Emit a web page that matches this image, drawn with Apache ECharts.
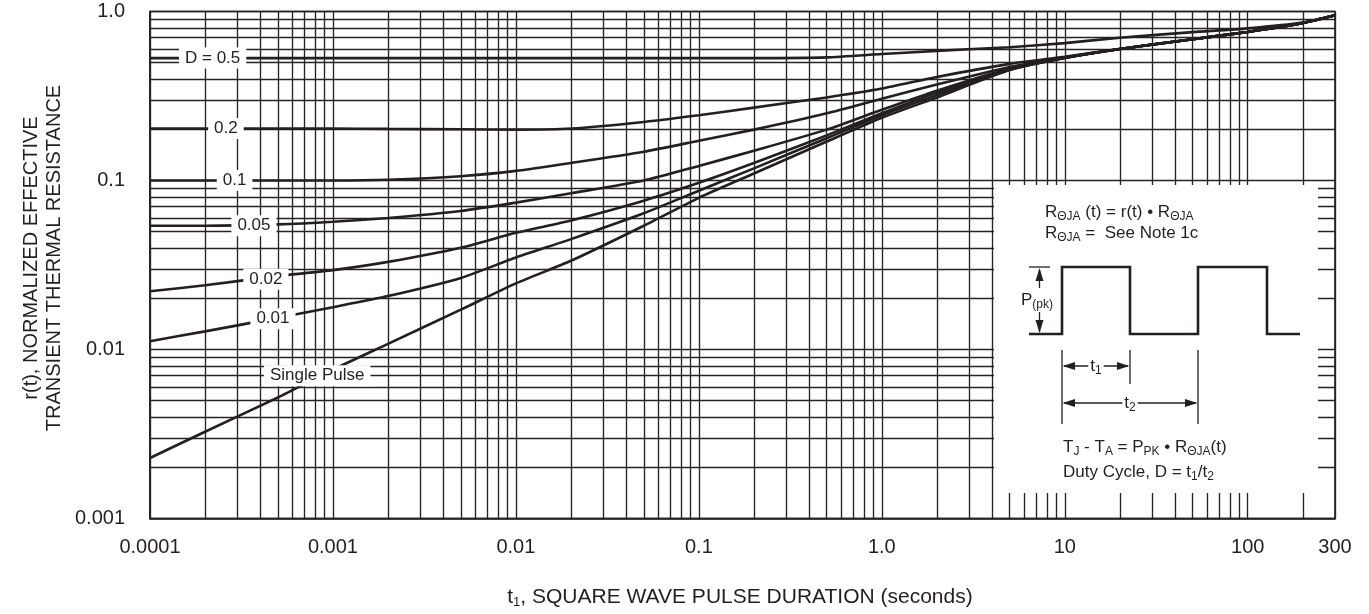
<!DOCTYPE html>
<html><head><meta charset="utf-8">
<script src="https://cdn.jsdelivr.net/npm/echarts@6/dist/echarts.min.js"></script>
<style>html,body{margin:0;padding:0;background:#fff}#c{width:1369px;height:614px}</style>
</head><body><div id="c"></div>
<script>
// ---- data ----
const pulseDuration = [0.0001, 0.0002, 0.0005, 0.001, 0.002, 0.005, 0.01, 0.02, 0.05, 0.1, 0.2, 0.5, 1, 2, 5, 10, 20, 50, 100, 200, 300];
const dutyD05   = [0.53, 0.53, 0.53, 0.53, 0.53, 0.53, 0.53, 0.53, 0.53, 0.53, 0.53, 0.535, 0.56, 0.585, 0.615, 0.65, 0.70, 0.755, 0.795, 0.86, 0.95];
const dutyD02   = [0.203, 0.203, 0.203, 0.203, 0.202, 0.201, 0.2, 0.203, 0.222, 0.243, 0.27, 0.31, 0.35, 0.41, 0.49, 0.54, 0.60, 0.685, 0.757, 0.855, 0.95];
const dutyD01   = [0.1, 0.1, 0.1, 0.1, 0.101, 0.106, 0.114, 0.127, 0.148, 0.172, 0.2, 0.25, 0.305, 0.37, 0.47, 0.535, 0.60, 0.685, 0.757, 0.855, 0.95];
const dutyD005  = [0.054, 0.054, 0.055, 0.057, 0.06, 0.066, 0.074, 0.084, 0.1, 0.122, 0.15, 0.2, 0.262, 0.34, 0.46, 0.533, 0.60, 0.685, 0.757, 0.855, 0.95];
const dutyD002  = [0.0221, 0.024, 0.0272, 0.0295, 0.033, 0.04, 0.049, 0.058, 0.076, 0.097, 0.127, 0.185, 0.25, 0.33, 0.455, 0.532, 0.60, 0.685, 0.757, 0.855, 0.95];
const dutyD001  = [0.0112, 0.0128, 0.0154, 0.0178, 0.0207, 0.0265, 0.035, 0.045, 0.064, 0.087, 0.118, 0.178, 0.243, 0.32, 0.452, 0.531, 0.60, 0.685, 0.757, 0.855, 0.95];
const singlePulse = [0.00228, 0.00326, 0.0052, 0.0076, 0.0108, 0.0172, 0.0246, 0.0335, 0.054, 0.079, 0.11, 0.17, 0.235, 0.31, 0.45, 0.53, 0.60, 0.685, 0.757, 0.855, 0.95];

const curveNames = ['D = 0.5', '0.2', '0.1', '0.05', '0.02', '0.01', 'Single Pulse'];
const curveValues = [dutyD05, dutyD02, dutyD01, dutyD005, dutyD002, dutyD001, singlePulse];
// label anchor of each curve name (t, r)
const labelT = [0.00022, 0.00026, 0.00029, 0.00037, 0.00043, 0.00047, 0.00082];
const labelR = [0.53, 0.203, 0.1, 0.054, 0.026, 0.0152, 0.0070];

const xTickValues = [0.0001, 0.001, 0.01, 0.1, 1, 10, 100, 300];
const xTickLabels = ['0.0001', '0.001', '0.01', '0.1', '1.0', '10', '100', '300'];
const yTickValues = [0.001, 0.01, 0.1, 1];
const yTickLabels = ['0.001', '0.01', '0.1', '1.0'];

// ---- helpers ----
const ink = '#231f20';
const FF = '"Liberation Sans", Arial, Helvetica, sans-serif';
function fmt(vals, labels) {
  return function (v) {
    const lv = Math.log10(v);
    for (let i = 0; i < vals.length; i++) {
      if (Math.abs(lv - Math.log10(vals[i])) < 0.02) return labels[i];
    }
    return '';
  };
}
// log grid lines: 1..9 in each decade
const xGrid = [];
for (let e = -4; e <= 2; e++) for (let m = 1; m <= 9; m++) { const v = m * Math.pow(10, e); if (v <= 300) xGrid.push(v); }
const yGrid = [];
for (let e = -3; e <= -1; e++) for (let m = 1; m <= 9; m++) yGrid.push(m * Math.pow(10, e));
yGrid.push(1);

const series = [{
  type: 'line', data: [], z: 1, silent: true,
  markLine: {
    silent: true, symbol: ['none', 'none'], animation: false, precision: 12, z: 1,
    label: { show: false },
    lineStyle: { color: '#242424', width: 1.35, type: 'solid' },
    emphasis: { disabled: true },
    data: xGrid.map(v => ({ xAxis: v })).concat(yGrid.map(v => ({ yAxis: v })))
  }
}];
curveValues.forEach((arr, i) => {
  series.push({
    type: 'line', name: curveNames[i], z: 3 + i, silent: true,
    data: pulseDuration.map((t, k) => [t, arr[k]]),
    showSymbol: false, smooth: 0.2,
    lineStyle: { color: ink, width: 2.6 },
    markPoint: {
      z: 30,
      symbol: 'circle', symbolSize: 1, itemStyle: { color: 'rgba(0,0,0,0)' }, animation: false,
      label: { show: true, position: 'inside', formatter: curveNames[i], color: ink, fontSize: 17, fontFamily: FF,
               backgroundColor: '#fff', padding: [2, 6] },
      data: [{ coord: [labelT[i], labelR[i]] }]
    }
  });
});

const sub = (size) => ({ fontSize: size, fontFamily: FF, fill: ink, padding: [Math.round(size * 0.8), 0, 0, 0] });
const insetText = (x, y, text) => ({
  type: 'text', x: x, y: y, z: 52,
  style: { text: text, fontSize: 17, fontFamily: FF, fill: ink, verticalAlign: 'middle', rich: { s: sub(12) } }
});
const seg = (pts, w) => ({ type: 'polyline', z: 52, shape: { points: pts }, style: { stroke: ink, lineWidth: w, fill: null } });
const tri = (pts) => ({ type: 'polygon', z: 53, shape: { points: pts }, style: { fill: ink } });

const graphic = [
  { type: 'rect', z: 50, shape: { x: 994, y: 185, width: 324, height: 308 }, style: { fill: '#fff' } },
  insetText(1045, 212, 'R{s|ΘJA} (t) = r(t) • R{s|ΘJA}'),
  insetText(1045, 233, 'R{s|ΘJA} =  See Note 1c'),
  seg([[1029, 334], [1062, 334], [1062, 267], [1130, 267], [1130, 334], [1198, 334], [1198, 267], [1267, 267], [1267, 334], [1300, 334]], 2.6),
  seg([[1029, 267], [1050, 267]], 1.3),
  seg([[1039.5, 270], [1039.5, 332]], 1.3),
  tri([[1039.5, 268], [1035.5, 281], [1043.5, 281]]),
  tri([[1039.5, 333], [1035.5, 320], [1043.5, 320]]),
  { type: 'text', x: 1037, y: 300, z: 54, style: { text: 'P{s|(pk)}', fontSize: 17, fontFamily: FF, fill: ink, align: 'center', verticalAlign: 'middle', backgroundColor: '#fff', padding: [1, 1], rich: { s: sub(12) } } },
  seg([[1062, 350], [1062, 424]], 1.3),
  seg([[1130, 350], [1130, 384]], 1.3),
  seg([[1198, 350], [1198, 424]], 1.3),
  seg([[1064, 366], [1128, 366]], 1.3),
  tri([[1062.5, 366], [1075, 362], [1075, 370]]),
  tri([[1129.5, 366], [1117, 362], [1117, 370]]),
  { type: 'text', x: 1096, y: 366, z: 54, style: { text: 't{s|1}', fontSize: 17, fontFamily: FF, fill: ink, align: 'center', verticalAlign: 'middle', backgroundColor: '#fff', padding: [0, 2], rich: { s: sub(12) } } },
  seg([[1064, 403], [1196, 403]], 1.3),
  tri([[1062.5, 403], [1075, 399], [1075, 407]]),
  tri([[1197.5, 403], [1185, 399], [1185, 407]]),
  { type: 'text', x: 1130, y: 403, z: 54, style: { text: 't{s|2}', fontSize: 17, fontFamily: FF, fill: ink, align: 'center', verticalAlign: 'middle', backgroundColor: '#fff', padding: [0, 2], rich: { s: sub(12) } } },
  insetText(1063, 447, 'T{s|J} - T{s|A} = P{s|PK} • R{s|ΘJA}(t)'),
  insetText(1063, 472, 'Duty Cycle, D = t{s|1}/t{s|2}'),
  // axis titles
  { type: 'text', x: 43, y: 258, rotation: Math.PI / 2, z: 10,
    style: { text: 'r(t), NORMALIZED EFFECTIVE\nTRANSIENT THERMAL RESISTANCE', fontSize: 20, lineHeight: 23, fontFamily: FF, fill: ink, align: 'center', verticalAlign: 'middle' } },
  { type: 'text', x: 740, y: 597, z: 10,
    style: { text: 't{s|1}, SQUARE WAVE PULSE DURATION (seconds)', fontSize: 21, fontFamily: FF, fill: ink, align: 'center', verticalAlign: 'middle', rich: { s: sub(13) } } }
];

const chart = echarts.init(document.getElementById('c'), null, { renderer: 'canvas' });
chart.setOption({
  animation: false,
  backgroundColor: '#fff',
  grid: { left: 150, right: 34, top: 11.5, bottom: 95.5, show: true, borderColor: ink, borderWidth: 1.6, backgroundColor: 'transparent' },
  xAxis: {
    type: 'log', logBase: 10, min: 0.0001, max: 300,
    axisLine: { show: true, lineStyle: { color: ink, width: 1.6 } },
    axisTick: { show: false }, splitLine: { show: false }, minorSplitLine: { show: false },
    axisLabel: { formatter: fmt(xTickValues, xTickLabels), fontSize: 20, fontFamily: FF, color: ink, margin: 19, showMinLabel: true, showMaxLabel: true, hideOverlap: false }
  },
  yAxis: {
    type: 'log', logBase: 10, min: 0.001, max: 1,
    axisLine: { show: true, lineStyle: { color: ink, width: 1.6 } },
    axisTick: { show: false }, splitLine: { show: false },
    axisLabel: { formatter: fmt(yTickValues, yTickLabels), fontSize: 20, fontFamily: FF, color: ink, margin: 25, showMinLabel: true, showMaxLabel: true }
  },
  series: series,
  graphic: graphic
});
</script></body></html>
